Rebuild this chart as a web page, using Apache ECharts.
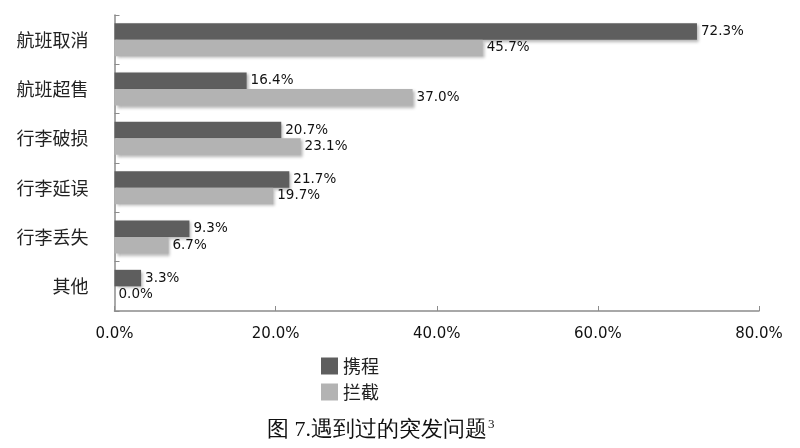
<!DOCTYPE html>
<html><head><meta charset="utf-8">
<script src="https://cdn.jsdelivr.net/npm/echarts@6/dist/echarts.min.js"></script>
<style>html,body{margin:0;padding:0;background:#fff}#c{width:800px;height:448px}</style>
</head><body><div id="c"></div>
<script>
const categories = ['航班取消','航班超售','行李破损','行李延误','行李丢失','其他'];
const ctripValues = [72.3, 16.4, 20.7, 21.7, 9.3, 3.3];
const interceptValues = [45.7, 37.0, 23.1, 19.7, 6.7, 0.0];
const seriesNames = ['携程','拦截'];
const xTicks = [0, 20, 40, 60, 80];

const chart = echarts.init(document.getElementById('c'));
const labelStyle = {show:true, position:'right', distance:4, fontFamily:'DejaVu Sans', fontSize:13.5, color:'#111', formatter: p => p.value.toFixed(1)+'%'};
const shadow = {shadowBlur:3, shadowOffsetX:2, shadowOffsetY:2, shadowColor:'rgba(0,0,0,0.3)'};
chart.setOption({
  animation:false,
  grid:{left:114.5, right:41, top:15, bottom:137},
  legend:{orient:'vertical', left:316, top:352, itemWidth:17, itemHeight:17, itemGap:8,
    textStyle:{fontFamily:'Noto Sans CJK SC', fontSize:18, color:'#222'}, icon:'rect',
    data:seriesNames},
  xAxis:{type:'value', min:xTicks[0], max:xTicks[xTicks.length-1], interval:20,
    axisLine:{show:true, lineStyle:{color:'#8c8c8c', width:1.5}},
    axisTick:{show:true, inside:true, length:5, lineStyle:{color:'#8c8c8c'}},
    splitLine:{show:false},
    axisLabel:{margin:16, fontFamily:'DejaVu Sans', fontSize:15, color:'#111', formatter: v => v.toFixed(1)+'%'}},
  yAxis:{type:'category', inverse:true, data:categories,
    axisLine:{show:true, lineStyle:{color:'#8c8c8c', width:1.5}},
    axisTick:{show:true, inside:true, length:5, lineStyle:{color:'#8c8c8c'}},
    axisLabel:{margin:26, fontFamily:'Noto Sans CJK SC', fontSize:18, color:'#222'}},
  series:[
    {name:seriesNames[0], type:'bar', data:ctripValues, barGap:'0%', barCategoryGap:'33%',
     itemStyle:Object.assign({color:'#5e5e5e'}, shadow), label:labelStyle},
    {name:seriesNames[1], type:'bar', data:interceptValues,
     itemStyle:Object.assign({color:'#b3b3b3'}, shadow), label:labelStyle}
  ],
  graphic:[{type:'text', left:267, top:418,
    style:{text:'{m|图 7.遇到过的突发问题}{s|3}', rich:{
      m:{fontFamily:'serif', fontSize:22, fill:'#111', verticalAlign:'bottom'},
      s:{fontFamily:'serif', fontSize:13, fill:'#111', verticalAlign:'top', padding:[0,0,10,1]}}}}]
});
</script></body></html>
